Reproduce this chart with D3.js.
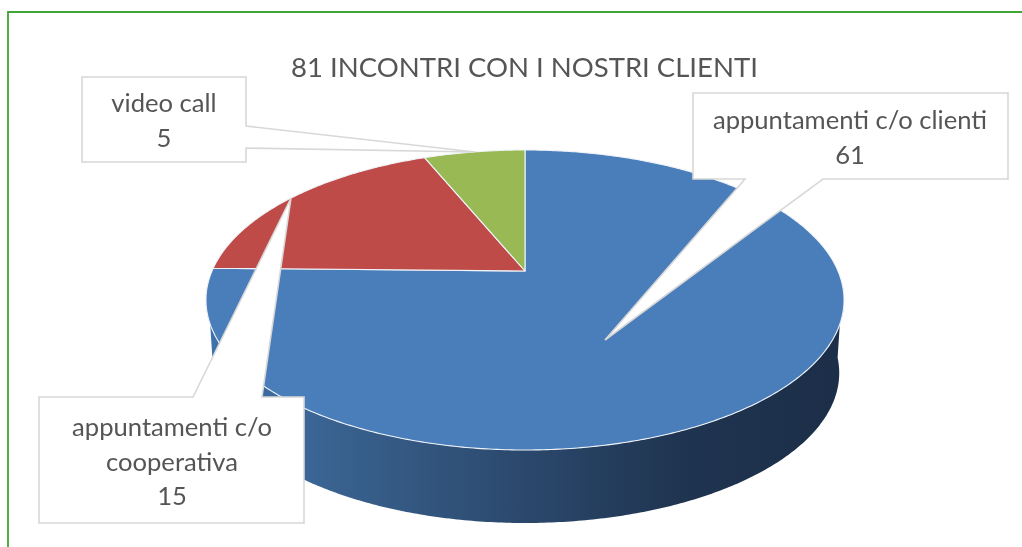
<!DOCTYPE html>
<html>
<head>
<meta charset="utf-8">
<script src="https://cdn.jsdelivr.net/npm/d3@7"></script>
<style>
  html, body { margin: 0; padding: 0; background: #fff; overflow: hidden; }
  svg { display: block; filter: blur(0.5px); }
  text { font-family: Lato, "Open Sans", sans-serif; fill: #555; text-anchor: middle; }
</style>
</head>
<body>
<svg width="1022" height="547"></svg>
<script>
const chartTitle = '81 INCONTRI CON I NOSTRI CLIENTI';
const categories = ['appuntamenti c/o clienti', 'appuntamenti c/o cooperativa', 'video call'];
const values = [61, 15, 5];
const colors = ['#4a7ebb', '#be4b48', '#98b954'];

const svg = d3.select('svg');

// frame, only left and top are in the picture
svg.append('path')
    .attr('d', 'M8,547V12H1022')
    .attr('fill', 'none')
    .attr('stroke', '#3fa535')
    .attr('stroke-width', 1.8);

// the pie is a tilted disc: circle angle -> screen point (perspective)
const center = {x: 525, y: 271};
const persp = -0.1933, bx = 313, by = 144.4;
const depth = 73, lowerScale = 0.985;

function project(a) {
    let u = Math.sin(a), v = -Math.cos(a);
    let w = 1 + persp * v;
    return [center.x + bx * u / w, center.y + by * v / w];
}
function projectLower(a) {
    let p = project(a);
    return [center.x + (p[0] - center.x) * lowerScale, p[1] + depth];
}
function samples(a0, a1) {
    let n = Math.max(2, Math.ceil(Math.abs(a1 - a0) / 0.01));
    return d3.range(n + 1).map(i => a0 + (a1 - a0) * i / n);
}

const line = d3.line();
const arcs = d3.pie().sort(null)(values);

// side wall
const grad = svg.append('defs').append('linearGradient')
    .attr('id', 'wall')
    .attr('gradientUnits', 'userSpaceOnUse')
    .attr('x1', 206).attr('x2', 844).attr('y1', 0).attr('y2', 0);
grad.selectAll('stop')
    .data([[0, '#3f72ae'], [0.2, '#39628f'], [0.5, '#2b486c'], [0.75, '#1f3450'], [1, '#1c2e48']])
    .join('stop')
    .attr('offset', d => d[0])
    .attr('stop-color', d => d[1]);

const frontAngles = samples(Math.PI * 0.53, Math.PI * 1.47);
svg.append('path')
    .attr('d', line(frontAngles.map(project).concat(frontAngles.slice().reverse().map(projectLower))) + 'Z')
    .attr('fill', 'url(#wall)');

// top surface
svg.selectAll('path.slice')
    .data(arcs)
    .join('path')
    .attr('class', 'slice')
    .attr('d', d => line([[center.x, center.y]].concat(samples(d.startAngle, d.endAngle).map(project))) + 'Z')
    .attr('fill', (d, i) => colors[i])
    .attr('stroke', '#f0f3f8')
    .attr('stroke-width', 1.1)
    .attr('stroke-linejoin', 'round');

// callouts
const callouts = [
    {lines: [categories[2], values[2]], cx: 164, base: [112, 147],
     outline: [[246, 126], [246, 77], [82, 77], [82, 162], [246, 162], [246, 148], [475, 152]]},
    {lines: [categories[0], values[0]], cx: 850, base: [129, 164],
     outline: [[745, 179], [693, 179], [693, 93], [1008, 93], [1008, 179], [823, 179], [605, 340]]},
    {lines: ['appuntamenti c/o', 'cooperativa', values[1]], cx: 172, base: [436, 471, 505],
     outline: [[193, 397], [39, 397], [39, 523], [304, 523], [304, 397], [262, 397], [291, 198]]}
];

const boxes = svg.selectAll('g.callout')
    .data(callouts)
    .join('g')
    .attr('class', 'callout');

boxes.append('path')
    .attr('d', d => line(d.outline) + 'Z')
    .attr('fill', '#fff')
    .attr('stroke', '#d8d8d8')
    .attr('stroke-width', 1.6)
    .attr('stroke-linejoin', 'miter');

boxes.each(function(d) {
    d3.select(this).selectAll('text')
        .data(d.lines)
        .join('text')
        .attr('x', d.cx)
        .attr('y', (t, i) => d.base[i])
        .attr('font-size', 25.6)
        .text(t => t);
});

svg.append('text')
    .attr('x', 524.5)
    .attr('y', 77)
    .attr('font-size', 27.5)
    .text(chartTitle);
</script>
</body>
</html>
